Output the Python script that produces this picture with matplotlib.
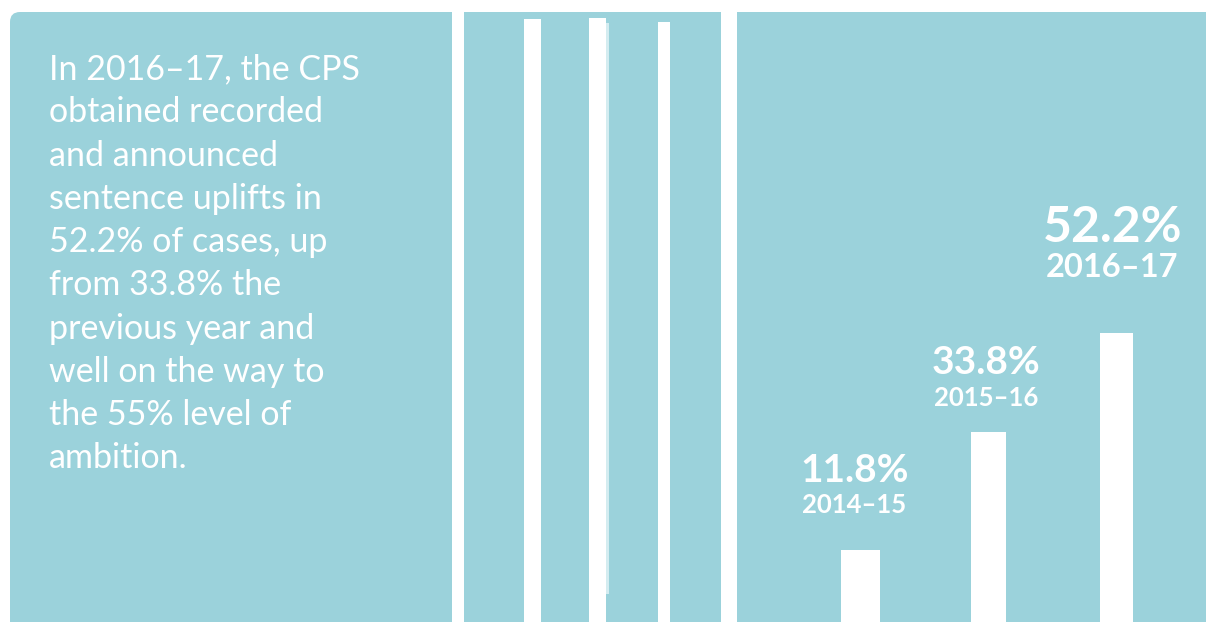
import matplotlib
matplotlib.use('Agg')
import matplotlib.pyplot as plt
from matplotlib.patches import Rectangle, FancyBboxPatch
import numpy as np

# data
years = ['2014–15', '2015–16', '2016–17']
uplift_pct = [11.8, 33.8, 52.2]
pct_labels = ['11.8%', '33.8%', '52.2%']

blurb = [
    'In 2016–17, the CPS',
    'obtained recorded',
    'and announced',
    'sentence uplifts in',
    '52.2% of cases, up',
    'from 33.8% the',
    'previous year and',
    'well on the way to',
    'the 55% level of',
    'ambition.',
]

TEAL = '#9bd2db'
W, H = 1206, 622

fig = plt.figure(figsize=(W / 100, H / 100), dpi=100)
fig.patch.set_facecolor('white')

# background axes in pixel units (y down)
bg = fig.add_axes([0, 0, 1, 1])
bg.set_xlim(0, W)
bg.set_ylim(H, 0)
bg.axis('off')

# left panel, only the top-left corner is rounded
bg.add_patch(FancyBboxPatch((10, 12), 441.7, 640, boxstyle='round,pad=0,rounding_size=10',
                            fc=TEAL, ec='none'))
bg.add_patch(Rectangle((230, 12), 221.7, 640, fc=TEAL, ec='none'))
# middle and right panels
bg.add_patch(Rectangle((464, 12), 257, 640, fc=TEAL, ec='none'))
bg.add_patch(Rectangle((737, 12), 480, 640, fc=TEAL, ec='none'))

# white strips in the middle panel
for x0, x1, top in [(524.3, 540.7, 19.3), (589, 605.7, 18.3), (657.7, 670, 21.7)]:
    bg.add_patch(Rectangle((x0, top), x1 - x0, H - top + 5, fc='white', ec='none'))
bg.add_patch(Rectangle((605.7, 23), 3.3, 571, fc='#d4ecf0', ec='none'))

# blurb text
for i, line in enumerate(blurb):
    bg.text(49, 79.3 + i * 43.2, line, fontsize=24.5, family='Lato', color='white',
            ha='left', va='baseline')

# bar axes over the right panel
ax = fig.add_axes([737 / W, 0, (W - 737) / W, 1])
ax.patch.set_alpha(0)
x = np.arange(len(years))
lo, hi = -1.56, 113.95
ax.set_xlim(-0.966, 2.70)
ax.set_ylim(lo, hi)
ax.axis('off')

vals = np.array(uplift_pct)
ax.bar(x, vals - lo, bottom=lo, width=[0.31, 0.28, 0.26], color='white', edgecolor='none')

year_gap = [36.8, 25.6, 55.2]  # px from bar top to year baseline
pct_gap = [31.6, 32, 35.6]     # px from year baseline to pct baseline
pct_size = [28, 28, 36]
year_size = [18.5, 18.5, 23.5]
x_shift = [-6, -2, -4]
for i in range(len(years)):
    ax.annotate(years[i], (x[i], vals[i]), xytext=(x_shift[i] * 0.72, year_gap[i] * 0.72),
                textcoords='offset points', ha='center', va='baseline',
                fontsize=year_size[i], family='Lato', fontweight='bold', color='white')
    ax.annotate(pct_labels[i], (x[i], vals[i]),
                xytext=(x_shift[i] * 0.72, (year_gap[i] + pct_gap[i]) * 0.72),
                textcoords='offset points', ha='center', va='baseline',
                fontsize=pct_size[i], family='Lato', fontweight='bold', color='white')

fig.savefig('out.png', dpi=100, facecolor='white')
